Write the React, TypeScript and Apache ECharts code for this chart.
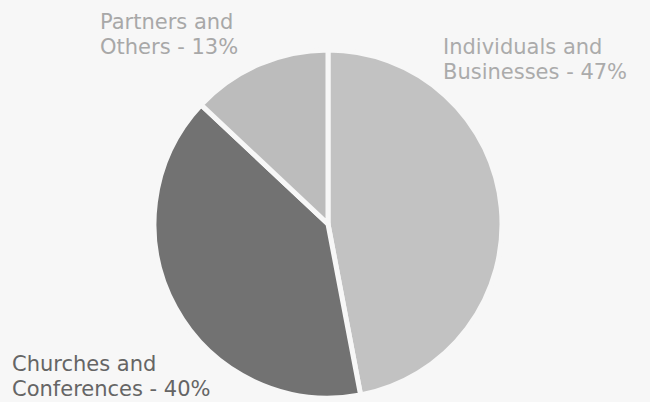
import React, { useEffect, useRef } from "react";
import * as echarts from "echarts";

const categories = ["Individuals and Businesses", "Churches and Conferences", "Partners and Others"];
const values = [47, 40, 13];
const sliceColors = ["#c2c2c2", "#727272", "#bcbcbc"];
const labelColors = ["#ababab", "#656565", "#a8a8a8"];
const labelPos = [
  { x: 443, y: 35 },
  { x: 12, y: 352 },
  { x: 100, y: 10 },
];

export default function App() {
  const ref = useRef<HTMLDivElement>(null);
  useEffect(() => {
    if (!ref.current) return;
    const chart = echarts.init(ref.current, undefined, { renderer: "svg" });
    chart.setOption({
      animation: false,
      backgroundColor: "#f7f7f7",
      series: [
        {
          type: "pie",
          center: [328, 224],
          radius: [0, 174],
          startAngle: 90,
          clockwise: true,
          silent: true,
          itemStyle: { borderColor: "#f7f7f7", borderWidth: 5 },
          labelLine: { show: false },
          label: {
            show: true,
            position: "outside",
            fontFamily: "DejaVu Sans",
            fontSize: 21,
            lineHeight: 24.5,
            overflow: "none",
            formatter: (p: any) => p.name.replace(" and ", " and\n") + " - " + p.value + "%",
          },
          labelLayout: (params: any) => {
            const pos = labelPos[params.dataIndex];
            return { x: pos.x, y: pos.y, align: "left", verticalAlign: "top", width: 300 };
          },
          data: categories.map((name, i) => ({
            name,
            value: values[i],
            itemStyle: { color: sliceColors[i] },
            label: { color: labelColors[i] },
          })),
        },
      ],
    });
    return () => chart.dispose();
  }, []);
  return (
    <div
      ref={ref}
      style={{ position: "fixed", left: 0, top: 0, width: 650, height: 402 }}
    />
  );
}
